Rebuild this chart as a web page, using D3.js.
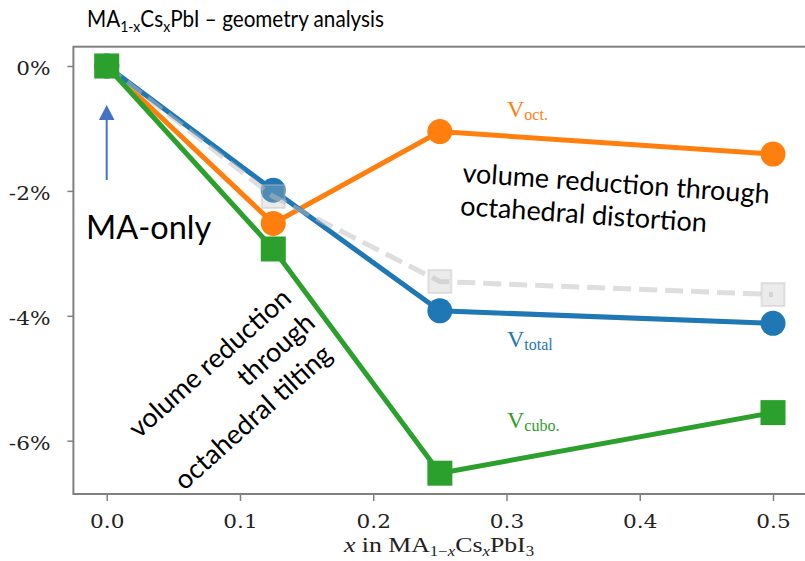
<!DOCTYPE html>
<html>
<head>
<meta charset="utf-8">
<script src="https://cdn.jsdelivr.net/npm/d3@7"></script>
<style>
  body { margin: 0; background: #fff; }
</style>
</head>
<body>
<div id="chart"></div>
<script>
// composition x in MA(1-x)Cs(x)PbI3
const xValues = [0, 0.125, 0.25, 0.5];
// relative volume change in %
const vTotal = [0, -1.99, -3.92, -4.12];
const vOct = [0, -2.52, -1.05, -1.41];
const vCubo = [0, -2.93, -6.52, -5.55];
const vGray = [0, -2.09, -3.45, -3.66];

const xTicks = [0, 0.1, 0.2, 0.3, 0.4, 0.5];
const yTicks = [0, -2, -4, -6];

const width = 805, height = 561;
const stretch = 1.2; // tick labels are a bit wide in the original

const svg = d3.select("#chart")
    .append("svg")
    .attr("width", width)
    .attr("height", height)
    .style("background", "#fff");

const x = d3.scaleLinear().domain([-0.025, 0.525]).range([73.4, 806.3]);
const y = d3.scaleLinear().domain([-6.853, 0.309]).range([494, 46.7]);

// frame
svg.append("rect")
    .attr("x", x(-0.025))
    .attr("y", y(0.309))
    .attr("width", x(0.525) - x(-0.025))
    .attr("height", y(-6.853) - y(0.309))
    .attr("fill", "none")
    .attr("stroke", "#808080")
    .attr("stroke-width", 2);

// axes
const yAxis = svg.append("g")
    .attr("transform", `translate(${x(-0.025)},0)`)
    .call(d3.axisLeft(y).tickValues(yTicks).tickSize(6).tickPadding(17).tickFormat(d => d + "%"));

const xAxis = svg.append("g")
    .attr("transform", `translate(0,${y(-6.853)})`)
    .call(d3.axisBottom(x).tickValues(xTicks).tickSize(7).tickPadding(14).tickFormat(d3.format(".1f")));

[xAxis, yAxis].forEach(g => {
    g.select(".domain").remove();
    g.selectAll(".tick line").attr("stroke", "#808080").attr("stroke-width", 1.5);
    g.selectAll(".tick text")
        .attr("font-family", "DejaVu Serif")
        .attr("font-size", 18)
        .attr("fill", "#222")
        .attr("transform", `scale(${stretch},1)`);
});
yAxis.selectAll(".tick text").attr("x", -23 / stretch).attr("dy", "0.47em");

const line = d3.line()
    .x((d, i) => x(xValues[i]))
    .y(d => y(d));

function drawSeries(values, color, marker) {
    const g = svg.append("g");
    g.append("path")
        .attr("d", line(values))
        .attr("fill", "none")
        .attr("stroke", color)
        .attr("stroke-width", 5);
    if (marker === "circle") {
        g.selectAll("circle")
            .data(values)
            .join("circle")
            .attr("cx", (d, i) => x(xValues[i]))
            .attr("cy", d => y(d))
            .attr("r", 12.5)
            .attr("fill", color);
    } else {
        g.selectAll("rect")
            .data(values)
            .join("rect")
            .attr("x", (d, i) => x(xValues[i]) - 12.5)
            .attr("y", d => y(d) - 12.5)
            .attr("width", 25)
            .attr("height", 25)
            .attr("fill", color);
    }
}

drawSeries(vOct, "#ff7f0e", "circle");
drawSeries(vTotal, "#1f77b4", "circle");

// faint dashed reference series
const gg = svg.append("g");
gg.append("path")
    .attr("d", line(vGray))
    .attr("fill", "none")
    .attr("stroke", "#bdbdbd")
    .attr("stroke-opacity", 0.5)
    .attr("stroke-width", 5)
    .attr("stroke-dasharray", "18,8");
gg.selectAll("rect")
    .data(vGray)
    .join("rect")
    .attr("x", (d, i) => x(xValues[i]) - 11.5)
    .attr("y", d => y(d) - 11.5)
    .attr("width", 23)
    .attr("height", 23)
    .attr("fill", "#bdbdbd")
    .attr("fill-opacity", 0.3)
    .attr("stroke", "#bdbdbd")
    .attr("stroke-opacity", 0.4)
    .attr("stroke-width", 2);

drawSeries(vCubo, "#2ca02c", "square");

// x label
const xl = svg.append("text")
    .attr("transform", `translate(439,552) scale(${stretch},1)`)
    .attr("text-anchor", "middle")
    .attr("font-family", "Liberation Serif")
    .attr("font-size", 21.5)
    .attr("fill", "#222");
xl.append("tspan").attr("font-style", "italic").text("x");
xl.append("tspan").text(" in MA");
xl.append("tspan").attr("font-size", 14).attr("dy", 3.5).text("1\u2212");
xl.append("tspan").attr("font-size", 14).attr("font-style", "italic").text("x");
xl.append("tspan").attr("dy", -3.5).text("Cs");
xl.append("tspan").attr("font-size", 14).attr("font-style", "italic").attr("dy", 3.5).text("x");
xl.append("tspan").attr("dy", -3.5).text("PbI");
xl.append("tspan").attr("font-size", 14).attr("dy", 3.5).text("3");

// title (Lato is wider than the original face, so squeeze it a little)
const title = svg.append("text")
    .attr("transform", "translate(87,27) scale(0.88,1)")
    .attr("font-family", "Lato")
    .attr("font-size", 23.5)
    .attr("fill", "#000");
title.append("tspan").text("MA");
title.append("tspan").attr("font-size", 16).attr("dy", 5).text("1-x");
title.append("tspan").attr("dy", -5).text("Cs");
title.append("tspan").attr("font-size", 16).attr("dy", 5).text("x");
title.append("tspan").attr("dy", -5).text("PbI \u2013 geometry analysis");

// series labels
const labels = [
    { main: "V", sub: "oct.", color: "#ff7f0e", lx: 507, ly: 117 },
    { main: "V", sub: "total", color: "#1f77b4", lx: 507, ly: 347 },
    { main: "V", sub: "cubo.", color: "#2ca02c", lx: 507, ly: 428 }
];
labels.forEach(l => {
    const t = svg.append("text")
        .attr("x", l.lx)
        .attr("y", l.ly)
        .attr("font-family", "Liberation Serif")
        .attr("font-size", 24)
        .attr("fill", l.color);
    t.append("tspan").text(l.main);
    t.append("tspan").attr("font-size", 16).attr("dy", 2.5).text(l.sub);
});

// MA-only note with arrow
svg.append("text")
    .attr("x", 86)
    .attr("y", 239)
    .attr("font-family", "Lato")
    .attr("font-size", 32.5)
    .attr("fill", "#000")
    .text("MA-only");
svg.append("line")
    .attr("x1", 106.7).attr("y1", 180)
    .attr("x2", 106.7).attr("y2", 118)
    .attr("stroke", "#4472c4")
    .attr("stroke-width", 2);
svg.append("path")
    .attr("d", "M106.7,105 L114.5,120 L98.9,120 Z")
    .attr("fill", "#4472c4");

// annotations
const note1 = svg.append("g")
    .attr("transform", "translate(462,182) rotate(4)")
    .attr("font-family", "Lato")
    .attr("font-size", 27)
    .attr("fill", "#000");
note1.append("text").attr("x", 0).attr("y", 0).text("volume reduction through");
note1.append("text").attr("x", 0).attr("y", 33).text("octahedral distortion");

const note2 = svg.append("g")
    .attr("transform", "translate(216,370) rotate(-42)")
    .attr("font-family", "Lato")
    .attr("font-size", 27)
    .attr("fill", "#000")
    .attr("text-anchor", "middle");
note2.append("text").attr("x", 0).attr("y", 0).text("volume reduction");
note2.append("text").attr("x", 58).attr("y", 34).text("through");
note2.append("text").attr("x", -4).attr("y", 69).text("octahedral tilting");
</script>
</body>
</html>
